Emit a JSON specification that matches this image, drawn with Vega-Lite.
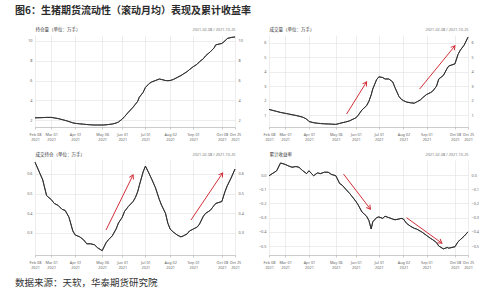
{
"$schema": "https://vega.github.io/schema/vega-lite/v6.json",
"background": "white",
"padding": {"left": 15, "top": 6, "right": 5, "bottom": 5},
"title": {"text": "图6：生猪期货流动性（滚动月均）表现及累计收益率", "anchor": "start", "frame": "group", "dx": -20, "fontSize": 10, "font": "Noto Sans CJK SC", "fontWeight": "bold", "color": "#2b2b2b", "offset": 10},
"datasets": {
"d": [
{"date":"2021-02-08","oi":2.23,"vol":1.39,"ratio":0.66,"ret":-0.005},
{"date":"2021-02-18","oi":2.25,"vol":1.25,"ratio":0.57,"ret":0.03},
{"date":"2021-02-23","oi":2.27,"vol":1.18,"ratio":0.49,"ret":0.085},
{"date":"2021-03-01","oi":2.27,"vol":1.12,"ratio":0.47,"ret":0.075},
{"date":"2021-03-05","oi":2.22,"vol":1.08,"ratio":0.45,"ret":0.065},
{"date":"2021-03-10","oi":2.15,"vol":1.02,"ratio":0.44,"ret":0.055},
{"date":"2021-03-15","oi":2.05,"vol":0.97,"ratio":0.42,"ret":0.06},
{"date":"2021-03-19","oi":1.97,"vol":0.92,"ratio":0.415,"ret":0.055},
{"date":"2021-03-24","oi":1.85,"vol":0.85,"ratio":0.38,"ret":0.03},
{"date":"2021-03-29","oi":1.72,"vol":0.72,"ratio":0.31,"ret":0.01},
{"date":"2021-04-01","oi":1.67,"vol":0.55,"ratio":0.29,"ret":0.03},
{"date":"2021-04-07","oi":1.62,"vol":0.47,"ratio":0.28,"ret":-0.005},
{"date":"2021-04-12","oi":1.58,"vol":0.43,"ratio":0.265,"ret":0.015},
{"date":"2021-04-16","oi":1.55,"vol":0.41,"ratio":0.245,"ret":0.01},
{"date":"2021-04-21","oi":1.52,"vol":0.39,"ratio":0.245,"ret":0.02},
{"date":"2021-04-26","oi":1.5,"vol":0.38,"ratio":0.24,"ret":0.02},
{"date":"2021-04-30","oi":1.5,"vol":0.37,"ratio":0.225,"ret":0.005},
{"date":"2021-05-06","oi":1.5,"vol":0.35,"ratio":0.21,"ret":-0.005},
{"date":"2021-05-11","oi":1.52,"vol":0.42,"ratio":0.25,"ret":-0.06},
{"date":"2021-05-14","oi":1.55,"vol":0.46,"ratio":0.265,"ret":-0.07},
{"date":"2021-05-19","oi":1.6,"vol":0.52,"ratio":0.285,"ret":-0.1},
{"date":"2021-05-24","oi":1.7,"vol":0.6,"ratio":0.32,"ret":-0.13},
{"date":"2021-05-27","oi":1.8,"vol":0.68,"ratio":0.35,"ret":-0.15},
{"date":"2021-06-01","oi":2.1,"vol":0.8,"ratio":0.38,"ret":-0.185},
{"date":"2021-06-04","oi":2.35,"vol":0.98,"ratio":0.41,"ret":-0.21},
{"date":"2021-06-09","oi":2.8,"vol":1.35,"ratio":0.435,"ret":-0.26},
{"date":"2021-06-15","oi":3.3,"vol":1.65,"ratio":0.46,"ret":-0.29},
{"date":"2021-06-18","oi":3.6,"vol":1.95,"ratio":0.48,"ret":-0.32},
{"date":"2021-06-21","oi":3.9,"vol":2.4,"ratio":0.51,"ret":-0.38},
{"date":"2021-06-23","oi":4.3,"vol":2.8,"ratio":0.54,"ret":-0.33},
{"date":"2021-06-28","oi":4.8,"vol":3.45,"ratio":0.61,"ret":-0.3},
{"date":"2021-07-01","oi":5.3,"vol":3.65,"ratio":0.64,"ret":-0.295},
{"date":"2021-07-06","oi":5.7,"vol":3.6,"ratio":0.6,"ret":-0.305},
{"date":"2021-07-09","oi":5.85,"vol":3.5,"ratio":0.575,"ret":-0.29},
{"date":"2021-07-14","oi":6.0,"vol":3.5,"ratio":0.53,"ret":-0.3},
{"date":"2021-07-19","oi":6.15,"vol":3.3,"ratio":0.47,"ret":-0.31},
{"date":"2021-07-22","oi":6.1,"vol":2.9,"ratio":0.44,"ret":-0.315},
{"date":"2021-07-27","oi":6.0,"vol":2.3,"ratio":0.4,"ret":-0.31},
{"date":"2021-07-30","oi":5.98,"vol":2.1,"ratio":0.35,"ret":-0.305},
{"date":"2021-08-02","oi":6.0,"vol":2.0,"ratio":0.32,"ret":-0.31},
{"date":"2021-08-06","oi":6.1,"vol":1.9,"ratio":0.305,"ret":-0.34},
{"date":"2021-08-11","oi":6.3,"vol":1.85,"ratio":0.29,"ret":-0.36},
{"date":"2021-08-16","oi":6.5,"vol":1.82,"ratio":0.28,"ret":-0.375},
{"date":"2021-08-19","oi":6.65,"vol":1.9,"ratio":0.285,"ret":-0.38},
{"date":"2021-08-24","oi":6.9,"vol":2.05,"ratio":0.295,"ret":-0.395},
{"date":"2021-08-27","oi":7.1,"vol":2.2,"ratio":0.31,"ret":-0.405},
{"date":"2021-09-01","oi":7.4,"vol":2.42,"ratio":0.32,"ret":-0.425},
{"date":"2021-09-06","oi":7.65,"vol":2.55,"ratio":0.33,"ret":-0.445},
{"date":"2021-09-09","oi":7.9,"vol":2.65,"ratio":0.345,"ret":-0.455},
{"date":"2021-09-14","oi":8.2,"vol":3.0,"ratio":0.385,"ret":-0.475},
{"date":"2021-09-17","oi":8.5,"vol":3.5,"ratio":0.4,"ret":-0.5},
{"date":"2021-09-23","oi":8.9,"vol":3.75,"ratio":0.415,"ret":-0.52},
{"date":"2021-09-28","oi":9.3,"vol":4.25,"ratio":0.44,"ret":-0.51},
{"date":"2021-09-30","oi":9.6,"vol":4.4,"ratio":0.45,"ret":-0.515},
{"date":"2021-10-08","oi":9.75,"vol":4.55,"ratio":0.46,"ret":-0.505},
{"date":"2021-10-12","oi":10.0,"vol":5.2,"ratio":0.51,"ret":-0.47},
{"date":"2021-10-15","oi":10.25,"vol":5.5,"ratio":0.54,"ret":-0.455},
{"date":"2021-10-20","oi":10.35,"vol":5.85,"ratio":0.58,"ret":-0.43},
{"date":"2021-10-25","oi":10.4,"vol":6.4,"ratio":0.625,"ret":-0.4}
],
"arrows": [
{"panel":"vol","id":1,"x0":"2021-05-20","y0":1.07,"x1":"2021-06-15","y1":3.3},
{"panel":"vol","id":2,"x0":"2021-08-23","y0":2.8,"x1":"2021-10-08","y1":5.8},
{"panel":"ratio","id":1,"x0":"2021-05-11","y0":0.315,"x1":"2021-06-15","y1":0.595},
{"panel":"ratio","id":2,"x0":"2021-08-29","y0":0.366,"x1":"2021-10-09","y1":0.605},
{"panel":"ret","id":1,"x0":"2021-05-16","y0":0.007,"x1":"2021-06-20","y1":-0.24},
{"panel":"ret","id":2,"x0":"2021-08-06","y0":-0.3,"x1":"2021-09-21","y1":-0.48}
]
},
"data": {"name": "d"},
"vconcat": [
{
"title": {"text": "数据来源：天软，华泰期货研究院", "orient": "bottom", "anchor": "start", "frame": "group", "dx": -20, "fontSize": 9.5, "font": "Noto Sans CJK SC", "fontWeight": "normal", "color": "#333", "offset": 8},
"columns": 2,
"spacing": {"row": 33, "column": 34},
"bounds": "flush",
"concat": [
{
"width": 200, "height": 92,
"layer": [
{"mark": {"type": "line", "color": "#2e2e2e", "strokeWidth": 0.9},
 "encoding": {
  "x": {"field": "date", "type": "temporal", "title": null, "scale": {"type": "utc", "domain": [{"year":2021,"month":2,"date":8,"utc":true},{"year":2021,"month":10,"date":25,"utc":true}]},
   "axis": {"values": [{"year":2021,"month":2,"date":8,"utc":true},{"year":2021,"month":3,"date":1,"utc":true},{"year":2021,"month":4,"date":1,"utc":true},{"year":2021,"month":5,"date":6,"utc":true},{"year":2021,"month":6,"date":1,"utc":true},{"year":2021,"month":7,"date":1,"utc":true},{"year":2021,"month":8,"date":2,"utc":true},{"year":2021,"month":9,"date":1,"utc":true},{"year":2021,"month":10,"date":8,"utc":true},{"year":2021,"month":10,"date":25,"utc":true}], "labelExpr": "[utcFormat(datum.value, '%b %d'), '2021']", "labelOverlap": false, "labelFlush": false, "grid": true}},
  "y": {"field": "oi", "type": "quantitative", "scale": {"domain": [1.3, 10.6], "nice": false, "zero": false},
   "axis": {"orient": "left", "values": [2,4,6,8,10], "title": "持仓量（单位：万手）", "titleAngle": 0, "titleAlign": "left", "titleBaseline": "bottom", "titleX": 0, "titleY": -4, "titleFontSize": 4.5, "titleFont": "Noto Sans CJK SC", "titleFontWeight": "normal", "titleColor": "#333"}}
 }},
{"mark": {"type": "line", "color": "#2e2e2e", "strokeWidth": 0.9},
 "encoding": {
  "x": {"field": "date", "type": "temporal", "title": null, "scale": {"type": "utc", "domain": [{"year":2021,"month":2,"date":8,"utc":true},{"year":2021,"month":10,"date":25,"utc":true}]},
   "axis": {"values": [{"year":2021,"month":2,"date":8,"utc":true},{"year":2021,"month":3,"date":1,"utc":true},{"year":2021,"month":4,"date":1,"utc":true},{"year":2021,"month":5,"date":6,"utc":true},{"year":2021,"month":6,"date":1,"utc":true},{"year":2021,"month":7,"date":1,"utc":true},{"year":2021,"month":8,"date":2,"utc":true},{"year":2021,"month":9,"date":1,"utc":true},{"year":2021,"month":10,"date":8,"utc":true},{"year":2021,"month":10,"date":25,"utc":true}], "labelExpr": "[utcFormat(datum.value, '%b %d'), '2021']", "labelOverlap": false, "labelFlush": false, "grid": true}},
  "y": {"field": "oi", "type": "quantitative", "scale": {"domain": [1.3, 10.6], "nice": false, "zero": false},
   "axis": {"orient": "right", "values": [2,4,6,8,10], "grid": false, "title": "2021-02-08 / 2021-10-25", "titleAngle": 0, "titleAlign": "right", "titleBaseline": "bottom", "titleX": 0, "titleY": -4, "titleFontSize": 3.8, "titleFontWeight": "normal", "titleColor": "#777"}}
 }}
],
"resolve": {"axis": {"y": "independent"}}
},
{
"width": 199, "height": 92,
"layer": [
{"mark": {"type": "line", "color": "#2e2e2e", "strokeWidth": 0.9},
 "encoding": {
  "x": {"field": "date", "type": "temporal", "title": null, "scale": {"type": "utc", "domain": [{"year":2021,"month":2,"date":8,"utc":true},{"year":2021,"month":10,"date":25,"utc":true}]},
   "axis": {"values": [{"year":2021,"month":2,"date":8,"utc":true},{"year":2021,"month":3,"date":1,"utc":true},{"year":2021,"month":4,"date":1,"utc":true},{"year":2021,"month":5,"date":6,"utc":true},{"year":2021,"month":6,"date":1,"utc":true},{"year":2021,"month":7,"date":1,"utc":true},{"year":2021,"month":8,"date":2,"utc":true},{"year":2021,"month":9,"date":1,"utc":true},{"year":2021,"month":10,"date":8,"utc":true},{"year":2021,"month":10,"date":25,"utc":true}], "labelExpr": "[utcFormat(datum.value, '%b %d'), '2021']", "labelOverlap": false, "labelFlush": false, "grid": true}},
  "y": {"field": "vol", "type": "quantitative", "scale": {"domain": [0.17, 6.55], "nice": false, "zero": false},
   "axis": {"orient": "left", "values": [1,2,3,4,5,6], "title": "成交量（单位：万手）", "titleAngle": 0, "titleAlign": "left", "titleBaseline": "bottom", "titleX": 0, "titleY": -4, "titleFontSize": 4.5, "titleFont": "Noto Sans CJK SC", "titleFontWeight": "normal", "titleColor": "#333"}}
 }},
{"mark": {"type": "line", "color": "#2e2e2e", "strokeWidth": 0.9},
 "encoding": {
  "x": {"field": "date", "type": "temporal", "title": null, "scale": {"type": "utc", "domain": [{"year":2021,"month":2,"date":8,"utc":true},{"year":2021,"month":10,"date":25,"utc":true}]},
   "axis": {"values": [{"year":2021,"month":2,"date":8,"utc":true},{"year":2021,"month":3,"date":1,"utc":true},{"year":2021,"month":4,"date":1,"utc":true},{"year":2021,"month":5,"date":6,"utc":true},{"year":2021,"month":6,"date":1,"utc":true},{"year":2021,"month":7,"date":1,"utc":true},{"year":2021,"month":8,"date":2,"utc":true},{"year":2021,"month":9,"date":1,"utc":true},{"year":2021,"month":10,"date":8,"utc":true},{"year":2021,"month":10,"date":25,"utc":true}], "labelExpr": "[utcFormat(datum.value, '%b %d'), '2021']", "labelOverlap": false, "labelFlush": false, "grid": true}},
  "y": {"field": "vol", "type": "quantitative", "scale": {"domain": [0.17, 6.55], "nice": false, "zero": false},
   "axis": {"orient": "right", "values": [1,2,3,4,5,6], "grid": false, "title": "2021-02-08 / 2021-10-25", "titleAngle": 0, "titleAlign": "right", "titleBaseline": "bottom", "titleX": 0, "titleY": -4, "titleFontSize": 3.8, "titleFontWeight": "normal", "titleColor": "#777"}}
 }},
{"data": {"name": "arrows"}, "transform": [{"filter": "datum.panel == 'vol'"}],
 "mark": {"type": "rule", "color": "#d3303a", "strokeWidth": 1},
 "encoding": {"x": {"field": "x0", "type": "temporal", "title": null, "scale": {"type": "utc", "domain": [{"year":2021,"month":2,"date":8,"utc":true},{"year":2021,"month":10,"date":25,"utc":true}]},
   "axis": {"values": [{"year":2021,"month":2,"date":8,"utc":true},{"year":2021,"month":3,"date":1,"utc":true},{"year":2021,"month":4,"date":1,"utc":true},{"year":2021,"month":5,"date":6,"utc":true},{"year":2021,"month":6,"date":1,"utc":true},{"year":2021,"month":7,"date":1,"utc":true},{"year":2021,"month":8,"date":2,"utc":true},{"year":2021,"month":9,"date":1,"utc":true},{"year":2021,"month":10,"date":8,"utc":true},{"year":2021,"month":10,"date":25,"utc":true}], "labelExpr": "[utcFormat(datum.value, '%b %d'), '2021']", "labelOverlap": false, "labelFlush": false, "grid": true}}, "x2": {"field": "x1"}, "y": {"field": "y0", "type": "quantitative", "axis": null, "scale": {"domain": [0.17, 6.55], "nice": false, "zero": false}}, "y2": {"field": "y1"}}},
{"data": {"name": "arrows"}, "transform": [{"filter": "datum.panel == 'vol' && datum.id == 1"}],
 "mark": {"type": "point", "shape": "M-0.6,1L0,0L0.6,1", "filled": false, "stroke": "#d3303a", "strokeWidth": 1, "size": 60, "angle": 32, "opacity": 1},
 "encoding": {"x": {"field": "x1", "type": "temporal", "title": null, "scale": {"type": "utc", "domain": [{"year":2021,"month":2,"date":8,"utc":true},{"year":2021,"month":10,"date":25,"utc":true}]},
   "axis": {"values": [{"year":2021,"month":2,"date":8,"utc":true},{"year":2021,"month":3,"date":1,"utc":true},{"year":2021,"month":4,"date":1,"utc":true},{"year":2021,"month":5,"date":6,"utc":true},{"year":2021,"month":6,"date":1,"utc":true},{"year":2021,"month":7,"date":1,"utc":true},{"year":2021,"month":8,"date":2,"utc":true},{"year":2021,"month":9,"date":1,"utc":true},{"year":2021,"month":10,"date":8,"utc":true},{"year":2021,"month":10,"date":25,"utc":true}], "labelExpr": "[utcFormat(datum.value, '%b %d'), '2021']", "labelOverlap": false, "labelFlush": false, "grid": true}}, "y": {"field": "y1", "type": "quantitative", "axis": null, "scale": {"domain": [0.17, 6.55], "nice": false, "zero": false}}}},
{"data": {"name": "arrows"}, "transform": [{"filter": "datum.panel == 'vol' && datum.id == 2"}],
 "mark": {"type": "point", "shape": "M-0.6,1L0,0L0.6,1", "filled": false, "stroke": "#d3303a", "strokeWidth": 1, "size": 60, "angle": 39, "opacity": 1},
 "encoding": {"x": {"field": "x1", "type": "temporal", "title": null, "scale": {"type": "utc", "domain": [{"year":2021,"month":2,"date":8,"utc":true},{"year":2021,"month":10,"date":25,"utc":true}]},
   "axis": {"values": [{"year":2021,"month":2,"date":8,"utc":true},{"year":2021,"month":3,"date":1,"utc":true},{"year":2021,"month":4,"date":1,"utc":true},{"year":2021,"month":5,"date":6,"utc":true},{"year":2021,"month":6,"date":1,"utc":true},{"year":2021,"month":7,"date":1,"utc":true},{"year":2021,"month":8,"date":2,"utc":true},{"year":2021,"month":9,"date":1,"utc":true},{"year":2021,"month":10,"date":8,"utc":true},{"year":2021,"month":10,"date":25,"utc":true}], "labelExpr": "[utcFormat(datum.value, '%b %d'), '2021']", "labelOverlap": false, "labelFlush": false, "grid": true}}, "y": {"field": "y1", "type": "quantitative", "axis": null, "scale": {"domain": [0.17, 6.55], "nice": false, "zero": false}}}}
],
"resolve": {"axis": {"y": "independent"}}
},
{
"width": 200, "height": 95,
"layer": [
{"mark": {"type": "line", "color": "#2e2e2e", "strokeWidth": 0.9},
 "encoding": {
  "x": {"field": "date", "type": "temporal", "title": null, "scale": {"type": "utc", "domain": [{"year":2021,"month":2,"date":8,"utc":true},{"year":2021,"month":10,"date":25,"utc":true}]},
   "axis": {"values": [{"year":2021,"month":2,"date":8,"utc":true},{"year":2021,"month":3,"date":1,"utc":true},{"year":2021,"month":4,"date":1,"utc":true},{"year":2021,"month":5,"date":6,"utc":true},{"year":2021,"month":6,"date":1,"utc":true},{"year":2021,"month":7,"date":1,"utc":true},{"year":2021,"month":8,"date":2,"utc":true},{"year":2021,"month":9,"date":1,"utc":true},{"year":2021,"month":10,"date":8,"utc":true},{"year":2021,"month":10,"date":25,"utc":true}], "labelExpr": "[utcFormat(datum.value, '%b %d'), '2021']", "labelOverlap": false, "labelFlush": false, "grid": true}},
  "y": {"field": "ratio", "type": "quantitative", "scale": {"domain": [0.188, 0.671], "nice": false, "zero": false},
   "axis": {"orient": "left", "values": [0.3,0.4,0.5,0.6], "format": ".1f", "title": "成交持仓（单位：万手）", "titleAngle": 0, "titleAlign": "left", "titleBaseline": "bottom", "titleX": 0, "titleY": -4, "titleFontSize": 4.5, "titleFont": "Noto Sans CJK SC", "titleFontWeight": "normal", "titleColor": "#333"}}
 }},
{"mark": {"type": "line", "color": "#2e2e2e", "strokeWidth": 0.9},
 "encoding": {
  "x": {"field": "date", "type": "temporal", "title": null, "scale": {"type": "utc", "domain": [{"year":2021,"month":2,"date":8,"utc":true},{"year":2021,"month":10,"date":25,"utc":true}]},
   "axis": {"values": [{"year":2021,"month":2,"date":8,"utc":true},{"year":2021,"month":3,"date":1,"utc":true},{"year":2021,"month":4,"date":1,"utc":true},{"year":2021,"month":5,"date":6,"utc":true},{"year":2021,"month":6,"date":1,"utc":true},{"year":2021,"month":7,"date":1,"utc":true},{"year":2021,"month":8,"date":2,"utc":true},{"year":2021,"month":9,"date":1,"utc":true},{"year":2021,"month":10,"date":8,"utc":true},{"year":2021,"month":10,"date":25,"utc":true}], "labelExpr": "[utcFormat(datum.value, '%b %d'), '2021']", "labelOverlap": false, "labelFlush": false, "grid": true}},
  "y": {"field": "ratio", "type": "quantitative", "scale": {"domain": [0.188, 0.671], "nice": false, "zero": false},
   "axis": {"orient": "right", "values": [0.3,0.4,0.5,0.6], "format": ".1f", "grid": false, "title": "2021-02-08 / 2021-10-25", "titleAngle": 0, "titleAlign": "right", "titleBaseline": "bottom", "titleX": 0, "titleY": -4, "titleFontSize": 3.8, "titleFontWeight": "normal", "titleColor": "#777"}}
 }},
{"data": {"name": "arrows"}, "transform": [{"filter": "datum.panel == 'ratio'"}],
 "mark": {"type": "rule", "color": "#d3303a", "strokeWidth": 1},
 "encoding": {"x": {"field": "x0", "type": "temporal", "title": null, "scale": {"type": "utc", "domain": [{"year":2021,"month":2,"date":8,"utc":true},{"year":2021,"month":10,"date":25,"utc":true}]},
   "axis": {"values": [{"year":2021,"month":2,"date":8,"utc":true},{"year":2021,"month":3,"date":1,"utc":true},{"year":2021,"month":4,"date":1,"utc":true},{"year":2021,"month":5,"date":6,"utc":true},{"year":2021,"month":6,"date":1,"utc":true},{"year":2021,"month":7,"date":1,"utc":true},{"year":2021,"month":8,"date":2,"utc":true},{"year":2021,"month":9,"date":1,"utc":true},{"year":2021,"month":10,"date":8,"utc":true},{"year":2021,"month":10,"date":25,"utc":true}], "labelExpr": "[utcFormat(datum.value, '%b %d'), '2021']", "labelOverlap": false, "labelFlush": false, "grid": true}}, "x2": {"field": "x1"}, "y": {"field": "y0", "type": "quantitative", "axis": null, "scale": {"domain": [0.188, 0.671], "nice": false, "zero": false}}, "y2": {"field": "y1"}}},
{"data": {"name": "arrows"}, "transform": [{"filter": "datum.panel == 'ratio' && datum.id == 1"}],
 "mark": {"type": "point", "shape": "M-0.6,1L0,0L0.6,1", "filled": false, "stroke": "#d3303a", "strokeWidth": 1, "size": 60, "angle": 26, "opacity": 1},
 "encoding": {"x": {"field": "x1", "type": "temporal", "title": null, "scale": {"type": "utc", "domain": [{"year":2021,"month":2,"date":8,"utc":true},{"year":2021,"month":10,"date":25,"utc":true}]},
   "axis": {"values": [{"year":2021,"month":2,"date":8,"utc":true},{"year":2021,"month":3,"date":1,"utc":true},{"year":2021,"month":4,"date":1,"utc":true},{"year":2021,"month":5,"date":6,"utc":true},{"year":2021,"month":6,"date":1,"utc":true},{"year":2021,"month":7,"date":1,"utc":true},{"year":2021,"month":8,"date":2,"utc":true},{"year":2021,"month":9,"date":1,"utc":true},{"year":2021,"month":10,"date":8,"utc":true},{"year":2021,"month":10,"date":25,"utc":true}], "labelExpr": "[utcFormat(datum.value, '%b %d'), '2021']", "labelOverlap": false, "labelFlush": false, "grid": true}}, "y": {"field": "y1", "type": "quantitative", "axis": null, "scale": {"domain": [0.188, 0.671], "nice": false, "zero": false}}}},
{"data": {"name": "arrows"}, "transform": [{"filter": "datum.panel == 'ratio' && datum.id == 2"}],
 "mark": {"type": "point", "shape": "M-0.6,1L0,0L0.6,1", "filled": false, "stroke": "#d3303a", "strokeWidth": 1, "size": 60, "angle": 34, "opacity": 1},
 "encoding": {"x": {"field": "x1", "type": "temporal", "title": null, "scale": {"type": "utc", "domain": [{"year":2021,"month":2,"date":8,"utc":true},{"year":2021,"month":10,"date":25,"utc":true}]},
   "axis": {"values": [{"year":2021,"month":2,"date":8,"utc":true},{"year":2021,"month":3,"date":1,"utc":true},{"year":2021,"month":4,"date":1,"utc":true},{"year":2021,"month":5,"date":6,"utc":true},{"year":2021,"month":6,"date":1,"utc":true},{"year":2021,"month":7,"date":1,"utc":true},{"year":2021,"month":8,"date":2,"utc":true},{"year":2021,"month":9,"date":1,"utc":true},{"year":2021,"month":10,"date":8,"utc":true},{"year":2021,"month":10,"date":25,"utc":true}], "labelExpr": "[utcFormat(datum.value, '%b %d'), '2021']", "labelOverlap": false, "labelFlush": false, "grid": true}}, "y": {"field": "y1", "type": "quantitative", "axis": null, "scale": {"domain": [0.188, 0.671], "nice": false, "zero": false}}}}
],
"resolve": {"axis": {"y": "independent"}}
},
{
"width": 199, "height": 95,
"layer": [
{"mark": {"type": "line", "color": "#2e2e2e", "strokeWidth": 0.9},
 "encoding": {
  "x": {"field": "date", "type": "temporal", "title": null, "scale": {"type": "utc", "domain": [{"year":2021,"month":2,"date":8,"utc":true},{"year":2021,"month":10,"date":25,"utc":true}]},
   "axis": {"values": [{"year":2021,"month":2,"date":8,"utc":true},{"year":2021,"month":3,"date":1,"utc":true},{"year":2021,"month":4,"date":1,"utc":true},{"year":2021,"month":5,"date":6,"utc":true},{"year":2021,"month":6,"date":1,"utc":true},{"year":2021,"month":7,"date":1,"utc":true},{"year":2021,"month":8,"date":2,"utc":true},{"year":2021,"month":9,"date":1,"utc":true},{"year":2021,"month":10,"date":8,"utc":true},{"year":2021,"month":10,"date":25,"utc":true}], "labelExpr": "[utcFormat(datum.value, '%b %d'), '2021']", "labelOverlap": false, "labelFlush": false, "grid": true}},
  "y": {"field": "ret", "type": "quantitative", "scale": {"domain": [-0.563, 0.106], "nice": false, "zero": false},
   "axis": {"orient": "left", "values": [-0.5,-0.4,-0.3,-0.2,-0.1,0], "format": ".1f", "title": "累计收益率", "titleAngle": 0, "titleAlign": "left", "titleBaseline": "bottom", "titleX": 0, "titleY": -4, "titleFontSize": 4.5, "titleFont": "Noto Sans CJK SC", "titleFontWeight": "normal", "titleColor": "#333"}}
 }},
{"mark": {"type": "line", "color": "#2e2e2e", "strokeWidth": 0.9},
 "encoding": {
  "x": {"field": "date", "type": "temporal", "title": null, "scale": {"type": "utc", "domain": [{"year":2021,"month":2,"date":8,"utc":true},{"year":2021,"month":10,"date":25,"utc":true}]},
   "axis": {"values": [{"year":2021,"month":2,"date":8,"utc":true},{"year":2021,"month":3,"date":1,"utc":true},{"year":2021,"month":4,"date":1,"utc":true},{"year":2021,"month":5,"date":6,"utc":true},{"year":2021,"month":6,"date":1,"utc":true},{"year":2021,"month":7,"date":1,"utc":true},{"year":2021,"month":8,"date":2,"utc":true},{"year":2021,"month":9,"date":1,"utc":true},{"year":2021,"month":10,"date":8,"utc":true},{"year":2021,"month":10,"date":25,"utc":true}], "labelExpr": "[utcFormat(datum.value, '%b %d'), '2021']", "labelOverlap": false, "labelFlush": false, "grid": true}},
  "y": {"field": "ret", "type": "quantitative", "scale": {"domain": [-0.563, 0.106], "nice": false, "zero": false},
   "axis": {"orient": "right", "values": [-0.5,-0.4,-0.3,-0.2,-0.1,0], "format": ".1f", "grid": false, "title": "2021-02-08 / 2021-10-25", "titleAngle": 0, "titleAlign": "right", "titleBaseline": "bottom", "titleX": 0, "titleY": -4, "titleFontSize": 3.8, "titleFontWeight": "normal", "titleColor": "#777"}}
 }},
{"data": {"name": "arrows"}, "transform": [{"filter": "datum.panel == 'ret'"}],
 "mark": {"type": "rule", "color": "#d3303a", "strokeWidth": 1},
 "encoding": {"x": {"field": "x0", "type": "temporal", "title": null, "scale": {"type": "utc", "domain": [{"year":2021,"month":2,"date":8,"utc":true},{"year":2021,"month":10,"date":25,"utc":true}]},
   "axis": {"values": [{"year":2021,"month":2,"date":8,"utc":true},{"year":2021,"month":3,"date":1,"utc":true},{"year":2021,"month":4,"date":1,"utc":true},{"year":2021,"month":5,"date":6,"utc":true},{"year":2021,"month":6,"date":1,"utc":true},{"year":2021,"month":7,"date":1,"utc":true},{"year":2021,"month":8,"date":2,"utc":true},{"year":2021,"month":9,"date":1,"utc":true},{"year":2021,"month":10,"date":8,"utc":true},{"year":2021,"month":10,"date":25,"utc":true}], "labelExpr": "[utcFormat(datum.value, '%b %d'), '2021']", "labelOverlap": false, "labelFlush": false, "grid": true}}, "x2": {"field": "x1"}, "y": {"field": "y0", "type": "quantitative", "axis": null, "scale": {"domain": [-0.563, 0.106], "nice": false, "zero": false}}, "y2": {"field": "y1"}}},
{"data": {"name": "arrows"}, "transform": [{"filter": "datum.panel == 'ret' && datum.id == 1"}],
 "mark": {"type": "point", "shape": "M-0.6,1L0,0L0.6,1", "filled": false, "stroke": "#d3303a", "strokeWidth": 1, "size": 60, "angle": 142, "opacity": 1},
 "encoding": {"x": {"field": "x1", "type": "temporal", "title": null, "scale": {"type": "utc", "domain": [{"year":2021,"month":2,"date":8,"utc":true},{"year":2021,"month":10,"date":25,"utc":true}]},
   "axis": {"values": [{"year":2021,"month":2,"date":8,"utc":true},{"year":2021,"month":3,"date":1,"utc":true},{"year":2021,"month":4,"date":1,"utc":true},{"year":2021,"month":5,"date":6,"utc":true},{"year":2021,"month":6,"date":1,"utc":true},{"year":2021,"month":7,"date":1,"utc":true},{"year":2021,"month":8,"date":2,"utc":true},{"year":2021,"month":9,"date":1,"utc":true},{"year":2021,"month":10,"date":8,"utc":true},{"year":2021,"month":10,"date":25,"utc":true}], "labelExpr": "[utcFormat(datum.value, '%b %d'), '2021']", "labelOverlap": false, "labelFlush": false, "grid": true}}, "y": {"field": "y1", "type": "quantitative", "axis": null, "scale": {"domain": [-0.563, 0.106], "nice": false, "zero": false}}}},
{"data": {"name": "arrows"}, "transform": [{"filter": "datum.panel == 'ret' && datum.id == 2"}],
 "mark": {"type": "point", "shape": "M-0.6,1L0,0L0.6,1", "filled": false, "stroke": "#d3303a", "strokeWidth": 1, "size": 60, "angle": 126, "opacity": 1},
 "encoding": {"x": {"field": "x1", "type": "temporal", "title": null, "scale": {"type": "utc", "domain": [{"year":2021,"month":2,"date":8,"utc":true},{"year":2021,"month":10,"date":25,"utc":true}]},
   "axis": {"values": [{"year":2021,"month":2,"date":8,"utc":true},{"year":2021,"month":3,"date":1,"utc":true},{"year":2021,"month":4,"date":1,"utc":true},{"year":2021,"month":5,"date":6,"utc":true},{"year":2021,"month":6,"date":1,"utc":true},{"year":2021,"month":7,"date":1,"utc":true},{"year":2021,"month":8,"date":2,"utc":true},{"year":2021,"month":9,"date":1,"utc":true},{"year":2021,"month":10,"date":8,"utc":true},{"year":2021,"month":10,"date":25,"utc":true}], "labelExpr": "[utcFormat(datum.value, '%b %d'), '2021']", "labelOverlap": false, "labelFlush": false, "grid": true}}, "y": {"field": "y1", "type": "quantitative", "axis": null, "scale": {"domain": [-0.563, 0.106], "nice": false, "zero": false}}}}
],
"resolve": {"axis": {"y": "independent"}}
}
]
}
],
"config": {
 "view": {"stroke": null},
 "font": "Noto Sans",
 "axis": {"labelFontSize": 3.8, "labelColor": "#666", "gridColor": "#e0e0e0", "gridWidth": 0.6, "domainColor": "#aaa", "tickColor": "#aaa", "domainWidth": 0.6, "tickWidth": 0.6, "labelPadding": 3},
 "axisY": {"domain": false, "ticks": false},
 "axisX": {"tickSize": 2}
}
}
